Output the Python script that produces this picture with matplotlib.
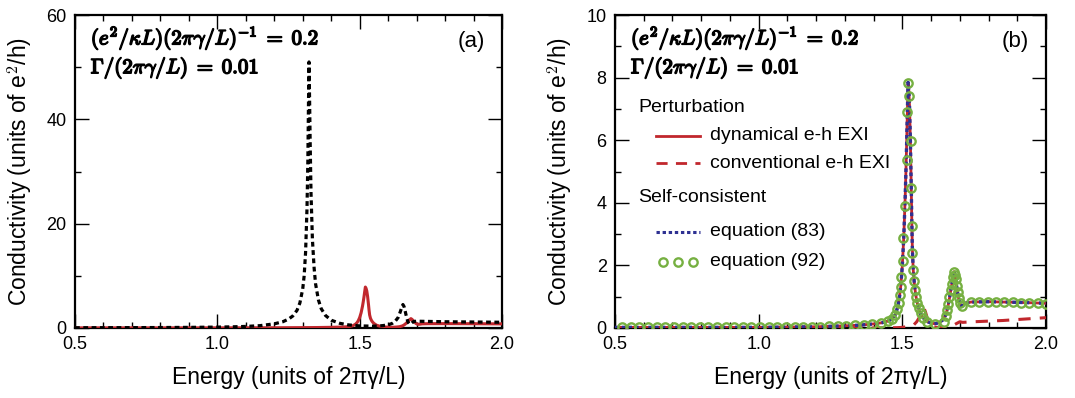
import matplotlib
matplotlib.use("Agg")
import matplotlib.pyplot as plt
from matplotlib.ticker import MultipleLocator, FormatStrFormatter
import matplotlib.patheffects as pe

plt.rcParams['font.family'] = ['Liberation Sans', 'DejaVu Sans']
plt.rcParams['mathtext.fontset'] = 'cm'

# ── Data ──────────────────────────────────────────────────────────────────────

# dynamical e-h exchange interaction (perturbation)
energy_dyn = [0.50, 0.60, 0.70, 0.80, 0.90, 1.00, 1.10, 1.20, 1.30, 1.35,
              1.40, 1.43, 1.45, 1.465, 1.475, 1.48, 1.485, 1.49, 1.495, 1.50,
              1.505, 1.51, 1.5125, 1.515, 1.5175, 1.52, 1.5225, 1.525, 1.528, 1.531,
              1.533, 1.535, 1.538, 1.542, 1.546, 1.55, 1.555, 1.56, 1.57, 1.58,
              1.59, 1.60, 1.61, 1.62, 1.63, 1.64, 1.65, 1.655, 1.66, 1.665,
              1.67, 1.675, 1.68, 1.684, 1.688, 1.692, 1.696, 1.70, 1.705, 1.71,
              1.72, 1.74, 1.80, 1.90, 2.00]
cond_dyn = [0.02, 0.02, 0.02, 0.02, 0.02, 0.02, 0.03, 0.04, 0.07, 0.09,
            0.13, 0.17, 0.22, 0.30, 0.42, 0.55, 0.72, 0.98, 1.38, 2.00,
            2.90, 4.20, 5.00, 5.90, 6.90, 7.85, 7.60, 7.10, 6.00, 4.50,
            3.40, 2.50, 1.85, 1.40, 1.10, 0.88, 0.68, 0.52, 0.36, 0.25,
            0.19, 0.16, 0.14, 0.15, 0.19, 0.25, 0.40, 0.55, 0.75, 1.00,
            1.28, 1.55, 1.80, 1.65, 1.40, 1.15, 0.95, 0.80, 0.70, 0.72,
            0.80, 0.83, 0.84, 0.82, 0.79]

# conventional e-h exchange interaction (perturbation), panel (b)
energy_conv = [0.50, 1.00, 1.40, 1.48, 1.50, 1.52, 1.54, 1.55, 1.56, 1.568,
               1.575, 1.581, 1.587, 1.595, 1.605, 1.62, 1.65, 1.66, 1.67, 1.68,
               1.69, 1.70, 1.71, 1.75, 1.80, 1.85, 1.90, 1.95, 2.00]
cond_conv = [0.00, 0.00, 0.00, 0.01, 0.02, 0.05, 0.10, 0.20, 0.35, 0.50,
             0.65, 0.50, 0.30, 0.12, 0.05, 0.02, 0.02, 0.03, 0.06, 0.10,
             0.15, 0.20, 0.18, 0.20, 0.22, 0.24, 0.27, 0.30, 0.33]

# conventional e-h exchange interaction, panel (a)
energy_conv_a = [0.50, 0.60, 0.70, 0.80, 0.90, 1.00, 1.05, 1.10, 1.15, 1.20,
                 1.23, 1.25, 1.265, 1.28, 1.29, 1.30, 1.305, 1.31, 1.315, 1.318,
                 1.320, 1.322, 1.324, 1.326, 1.329, 1.334, 1.34, 1.345, 1.355, 1.365,
                 1.38, 1.40, 1.43, 1.46, 1.50, 1.55, 1.58, 1.60, 1.615, 1.625,
                 1.635, 1.642, 1.648, 1.652, 1.656, 1.66, 1.665, 1.67, 1.675, 1.68,
                 1.685, 1.69, 1.70, 1.75, 1.80, 1.90, 2.00]
cond_conv_a = [0.05, 0.06, 0.07, 0.09, 0.12, 0.17, 0.22, 0.30, 0.45, 0.80,
               1.2, 1.7, 2.3, 3.4, 4.8, 7.5, 10.0, 14.5, 23.0, 32.0,
               42.0, 51.0, 44.0, 36.0, 26.0, 17.0, 11.5, 8.5, 5.4, 3.7,
               2.4, 1.5, 0.9, 0.6, 0.4, 0.35, 0.45, 0.6, 0.9, 1.3,
               2.0, 3.0, 4.0, 4.5, 4.1, 3.2, 2.0, 1.1, 0.75, 0.8,
               1.05, 1.25, 1.3, 1.25, 1.2, 1.15, 1.1]

# self-consistent, equation (83)
energy_eq83 = energy_dyn
cond_eq83 = cond_dyn

# self-consistent, equation (92)
energy_eq92 = [0.525, 0.555, 0.585, 0.615, 0.645, 0.675, 0.705, 0.735, 0.765, 0.795,
               0.825, 0.855, 0.885, 0.915, 0.945, 0.975, 1.005, 1.035, 1.065, 1.095,
               1.125, 1.155, 1.185, 1.215, 1.245, 1.275, 1.305, 1.335, 1.365, 1.395,
               1.425, 1.45, 1.465, 1.475, 1.482, 1.487, 1.491, 1.494, 1.4965, 1.5012,
               1.5035, 1.5082, 1.5152, 1.5175, 1.5198, 1.5245, 1.5291, 1.5315, 1.533, 1.535,
               1.537, 1.541, 1.545, 1.548, 1.552, 1.557, 1.564, 1.573, 1.585, 1.613,
               1.644, 1.651, 1.656, 1.66, 1.664, 1.668, 1.672, 1.676, 1.68, 1.683,
               1.686, 1.689, 1.692, 1.696, 1.70, 1.707, 1.738, 1.768, 1.797, 1.826,
               1.855, 1.884, 1.913, 1.942, 1.971, 2.0]
cond_eq92 = [0.02, 0.02, 0.02, 0.02, 0.02, 0.02, 0.02, 0.02, 0.02, 0.02,
             0.02, 0.02, 0.02, 0.02, 0.02, 0.02, 0.02, 0.02, 0.03, 0.03,
             0.03, 0.03, 0.04, 0.04, 0.05, 0.06, 0.07, 0.08, 0.10, 0.12,
             0.16, 0.22, 0.30, 0.42, 0.60, 0.80, 1.05, 1.30, 1.62, 2.14,
             2.86, 3.91, 5.36, 6.90, 7.83, 7.41, 5.97, 4.46, 3.27, 2.41,
             1.84, 1.50, 1.20, 0.98, 0.80, 0.64, 0.48, 0.33, 0.20, 0.13,
             0.20, 0.38, 0.58, 0.78, 0.98, 1.20, 1.42, 1.62, 1.80, 1.70,
             1.55, 1.35, 1.15, 0.95, 0.80, 0.70, 0.82, 0.83, 0.83, 0.83,
             0.82, 0.82, 0.81, 0.80, 0.80, 0.78]

red = '#c1272d'
blue = '#2e3192'
green = '#76b041'

param1 = r'$(e^2/\kappa L)(2\pi\gamma/L)^{-1} \;=\; 0.2$'
param2 = r'$\Gamma/(2\pi\gamma/L) \;=\; 0.01$'
# thicken the Computer Modern glyphs to a bold look
bold = [pe.withStroke(linewidth=1.1, foreground='black')]

# ── Figure ────────────────────────────────────────────────────────────────────

fig = plt.figure(figsize=(10.75, 3.98), dpi=100)
ax1 = fig.add_axes([75 / 1075, 1 - 328 / 398, 427 / 1075, 313 / 398])
ax2 = fig.add_axes([615 / 1075, 1 - 328 / 398, 431 / 1075, 313 / 398])

# panel (a)
ax1.plot(energy_dyn, cond_dyn, color=red, lw=2.2, zorder=3)
ax1.plot(energy_conv_a, cond_conv_a, color='black', lw=2.3,
         dashes=(1.5, 1.1), zorder=4)
ax1.set_ylim(0, 60)
ax1.yaxis.set_major_locator(MultipleLocator(20))
ax1.yaxis.set_minor_locator(MultipleLocator(10))

# panel (b)
ax2.plot(energy_conv, cond_conv, color=red, lw=2.2, dashes=(4, 3), zorder=3)
ax2.plot(energy_dyn, cond_dyn, color=red, lw=2.0, zorder=3)
ax2.plot(energy_eq83, cond_eq83, color=blue, lw=2.4, dashes=(1.1, 0.9), zorder=4)
ax2.plot(energy_eq92, cond_eq92, ls='none', marker='o', ms=6.0, mfc='none',
         mec=green, mew=1.7, zorder=5)
ax2.set_ylim(0, 10)
ax2.yaxis.set_major_locator(MultipleLocator(2))
ax2.yaxis.set_minor_locator(MultipleLocator(1))

for ax, tag in ((ax1, '(a)'), (ax2, '(b)')):
    ax.set_xlim(0.5, 2.0)
    ax.xaxis.set_major_locator(MultipleLocator(0.5))
    ax.xaxis.set_minor_locator(MultipleLocator(0.1))
    ax.xaxis.set_major_formatter(FormatStrFormatter('%.1f'))
    ax.tick_params(which='both', direction='in', top=True, right=True,
                   labelsize=13, pad=6)
    ax.tick_params(which='major', length=10, width=1.0)
    ax.tick_params(which='minor', length=4.5, width=1.0)
    for s in ax.spines.values():
        s.set_linewidth(1.6)
    ax.set_xlabel('Energy (units of 2\u03c0\u03b3/L)', fontsize=16.5, labelpad=9)
    ax.set_ylabel('Conductivity (units of e$^2$/h)', fontsize=16.5, labelpad=8)
    ax.text(0.037, 0.925, param1, transform=ax.transAxes, fontsize=15,
            va='center', ha='left', path_effects=bold)
    ax.text(0.037, 0.83, param2, transform=ax.transAxes, fontsize=15,
            va='center', ha='left', path_effects=bold)
    ax.text(0.96, 0.915, tag, transform=ax.transAxes, fontsize=16,
            va='center', ha='right')

ax1.yaxis.set_major_formatter(FormatStrFormatter('%d'))

# legend for panel (b), drawn in axes coordinates
tr = ax2.transAxes
def ax_x(px):
    return (px - 615) / 431
def ax_y(py):
    return (328 - py) / 313

ax2.text(ax_x(638), ax_y(108), 'Perturbation', transform=tr, fontsize=14, va='center')
ax2.plot([ax_x(656), ax_x(700)], [ax_y(136)] * 2, transform=tr, color=red, lw=2.0)
ax2.text(ax_x(710), ax_y(136), 'dynamical e-h EXI', transform=tr, fontsize=14, va='center')
ax2.plot([ax_x(656), ax_x(700)], [ax_y(163)] * 2, transform=tr, color=red, lw=2.0,
         dashes=(4, 3))
ax2.text(ax_x(710), ax_y(163), 'conventional e-h EXI', transform=tr, fontsize=14, va='center')
ax2.text(ax_x(638), ax_y(198), 'Self-consistent', transform=tr, fontsize=14, va='center')
ax2.plot([ax_x(656), ax_x(700)], [ax_y(232)] * 2, transform=tr, color=blue, lw=2.2,
         dashes=(1.1, 0.9))
ax2.text(ax_x(710), ax_y(232), 'equation (83)', transform=tr, fontsize=14, va='center')
ax2.plot([ax_x(663), ax_x(678), ax_x(693)], [ax_y(262)] * 3, transform=tr, ls='none',
         marker='o', ms=6.0, mfc='none', mec=green, mew=1.7)
ax2.text(ax_x(710), ax_y(262), 'equation (92)', transform=tr, fontsize=14, va='center')

fig.savefig('out.png', dpi=100)
